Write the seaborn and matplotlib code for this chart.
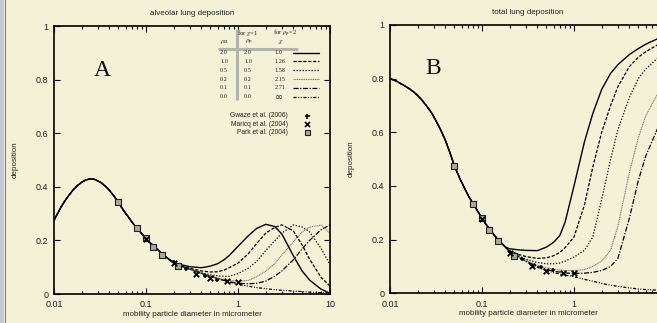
import matplotlib
matplotlib.use("Agg")
import matplotlib.pyplot as plt
import seaborn as sns
import pandas as pd
from matplotlib.lines import Line2D
from matplotlib.patches import Rectangle
from matplotlib.ticker import LogLocator, NullFormatter

# ---------------- data ----------------
diam_small = [0.01, 0.011, 0.012, 0.013, 0.014, 0.016, 0.018, 0.02, 0.022, 0.025, 0.028,
              0.032, 0.036, 0.04, 0.045, 0.05, 0.057, 0.065, 0.072, 0.08, 0.09, 0.1, 0.11,
              0.13, 0.145, 0.16, 0.18]
diam_large = [0.2, 0.25, 0.3, 0.4, 0.5, 0.6, 0.7, 0.8, 1.0, 1.3, 1.6, 2.0, 2.5, 3.0, 4.0, 5.0, 6.0, 8.0, 10.0]

alv_small = [0.275, 0.302, 0.326, 0.345, 0.361, 0.387, 0.405, 0.417, 0.425, 0.43, 0.427,
             0.417, 0.403, 0.387, 0.365, 0.342, 0.312, 0.285, 0.264, 0.245, 0.225, 0.207, 0.192,
             0.17, 0.155, 0.142, 0.128]
alv_rho20 = [0.117, 0.108, 0.102, 0.098, 0.104, 0.113, 0.127, 0.143, 0.178, 0.218, 0.245, 0.26, 0.252, 0.224, 0.142, 0.085, 0.052, 0.018, 0.003]
alv_rho10 = [0.116, 0.104, 0.096, 0.086, 0.082, 0.083, 0.089, 0.098, 0.115, 0.151, 0.189, 0.227, 0.248, 0.258, 0.235, 0.182, 0.13, 0.062, 0.03]
alv_rho05 = [0.115, 0.102, 0.093, 0.079, 0.072, 0.068, 0.066, 0.066, 0.076, 0.097, 0.122, 0.162, 0.198, 0.227, 0.258, 0.25, 0.232, 0.17, 0.11]
alv_rho02 = [0.115, 0.102, 0.092, 0.077, 0.067, 0.06, 0.055, 0.051, 0.048, 0.051, 0.065, 0.085, 0.113, 0.146, 0.195, 0.232, 0.25, 0.257, 0.227]
alv_rho01 = [0.115, 0.102, 0.092, 0.077, 0.066, 0.058, 0.051, 0.046, 0.040, 0.038, 0.040, 0.048, 0.066, 0.086, 0.128, 0.169, 0.2, 0.24, 0.258]
alv_rho00 = [0.115, 0.102, 0.092, 0.077, 0.066, 0.058, 0.051, 0.045, 0.036, 0.029, 0.024, 0.02, 0.016, 0.014, 0.011, 0.009, 0.007, 0.005, 0.004]

tot_small = [0.80, 0.795, 0.789, 0.782, 0.776, 0.764, 0.751, 0.737, 0.722, 0.698, 0.675,
             0.64, 0.605, 0.57, 0.523, 0.476, 0.43, 0.39, 0.36, 0.335, 0.305, 0.28, 0.258,
             0.225, 0.205, 0.19, 0.172]
tot_rho20 = [0.166, 0.162, 0.16, 0.159, 0.172, 0.19, 0.215, 0.265, 0.40, 0.565, 0.67, 0.76, 0.82, 0.852, 0.89, 0.912, 0.928, 0.948, 0.96]
tot_rho10 = [0.158, 0.145, 0.137, 0.13, 0.132, 0.14, 0.152, 0.17, 0.21, 0.33, 0.47, 0.6, 0.7, 0.77, 0.845, 0.88, 0.9, 0.925, 0.94]
tot_rho05 = [0.156, 0.14, 0.127, 0.115, 0.11, 0.11, 0.113, 0.12, 0.135, 0.16, 0.21, 0.35, 0.5, 0.61, 0.73, 0.8, 0.835, 0.875, 0.9]
tot_rho02 = [0.155, 0.137, 0.123, 0.105, 0.095, 0.09, 0.087, 0.085, 0.085, 0.088, 0.1, 0.12, 0.16, 0.25, 0.45, 0.58, 0.66, 0.74, 0.79]
tot_rho01 = [0.155, 0.136, 0.12, 0.1, 0.088, 0.082, 0.079, 0.076, 0.074, 0.075, 0.078, 0.085, 0.1, 0.13, 0.28, 0.42, 0.51, 0.61, 0.68]
tot_rho00 = [0.154, 0.135, 0.118, 0.097, 0.085, 0.077, 0.072, 0.068, 0.062, 0.052, 0.045, 0.037, 0.03, 0.026, 0.02, 0.016, 0.014, 0.012, 0.01]

rho_labels = ["2.0", "1.0", "0.5", "0.2", "0.1", "0.0"]
chi_labels = ["1.0", "1.26", "1.58", "2.15", "2.71", "\u221e"]

gwaze_d = [0.2, 0.27, 0.44, 0.59]
gwaze_alv = [0.118, 0.095, 0.066, 0.052]
gwaze_tot = [0.155, 0.127, 0.097, 0.085]
maricq_d = [0.1, 0.2, 0.35, 0.5, 0.75, 1.0]
maricq_alv = [0.207, 0.117, 0.076, 0.058, 0.049, 0.045]
maricq_tot = [0.277, 0.151, 0.103, 0.084, 0.077, 0.075]
park_d = [0.05, 0.08, 0.1, 0.12, 0.15, 0.22]
park_alv = [0.342, 0.247, 0.208, 0.177, 0.147, 0.105]
park_tot = [0.476, 0.333, 0.28, 0.236, 0.195, 0.139]

# ---------------- style ----------------
sns.set_theme(style="ticks")
plt.rcParams["font.family"] = ["Liberation Sans", "DejaVu Sans"]
plt.rcParams["mathtext.fontset"] = "stix"

BG = "#f4f2d6"
W, H = 657, 323
fig = plt.figure(figsize=(6.57, 3.23), dpi=100, facecolor=BG)


def fx(px):
    return px / W


def fy(py):
    return 1 - py / H


axA = fig.add_axes([fx(54), fy(294), fx(330) - fx(54), fy(26) - fy(294)])
axB = fig.add_axes([fx(390), fy(293.3), fx(666) - fx(390), fy(25) - fy(293.3)])

styles = [
    ("#000000", "-", 1.0),
    ("#000000", (0, (2.6, 1.3)), 0.9),
    ("#000000", (0, (1.0, 1.4)), 0.9),
    ("#7a7a72", (0, (1.0, 0.6)), 0.8),
    ("#000000", (0, (4.0, 1.3, 1.0, 1.3)), 0.9),
    ("#000000", (0, (2.5, 1.3, 0.8, 1.2, 0.8, 1.3)), 0.9),
]

alv_tails = [alv_rho20, alv_rho10, alv_rho05, alv_rho02, alv_rho01, alv_rho00]
tot_tails = [tot_rho20, tot_rho10, tot_rho05, tot_rho02, tot_rho01, tot_rho00]


def draw_panel(ax, small, tails, g_y, m_y, p_y, title, xlabels):
    ax.set_facecolor(BG)
    for i in reversed(range(len(tails))):
        df = pd.DataFrame({"d": diam_small + diam_large, "dep": small + tails[i]})
        col, ls, lw = styles[i]
        sns.lineplot(data=df, x="d", y="dep", ax=ax, color=col, linestyle=ls,
                     linewidth=lw, legend=False)
    sns.scatterplot(x=park_d, y=p_y, ax=ax, marker="s", s=16, color="#a9a99c",
                    edgecolor="#222222", linewidth=0.8, zorder=5, legend=False)
    sns.scatterplot(x=maricq_d, y=m_y, ax=ax, marker="x", s=16, color="#000000",
                    linewidth=1.3, zorder=6, legend=False)
    sns.scatterplot(x=gwaze_d, y=g_y, ax=ax, marker="+", s=10, color="#000000",
                    linewidth=1.1, zorder=6, legend=False)
    ax.set_xscale("log")
    ax.set_xlim(0.01, 10)
    ax.set_ylim(0, 1)
    ax.set_xticks([0.01, 0.1, 1, 10], labels=xlabels)
    ax.xaxis.set_minor_locator(LogLocator(base=10, subs=[2, 3, 4, 5, 6, 7, 8, 9]))
    ax.xaxis.set_minor_formatter(NullFormatter())
    ax.set_yticks([0, 0.2, 0.4, 0.6, 0.8, 1.0], labels=["0", "0.2", "0.4", "0.6", "0.8", "1"])
    ax.tick_params(which="both", direction="in", top=True, right=True,
                   colors="#000000", labelcolor="#222222", width=0.8)
    ax.tick_params(which="major", length=4, labelsize=6.5)
    ax.tick_params(axis="y", which="major", pad=4)
    ax.tick_params(axis="x", which="major", pad=4.5)
    ax.tick_params(which="minor", length=2)
    for s in ax.spines.values():
        s.set_linewidth(1.2)
        s.set_color("#000000")
    ax.set_xlabel("mobility particle diameter in micrometer", fontsize=5.8, color="#222222")
    ax.set_ylabel("deposition", fontsize=5.8, color="#222222")
    ax.yaxis.set_label_coords(-0.129, 0.5)
    ax.xaxis.set_label_coords(0.5, -0.062)
    ax.text(0.5, 1.048, title, transform=ax.transAxes, ha="center", va="center",
            fontsize=5.8, color="#222222")


draw_panel(axA, alv_small, alv_tails, gwaze_alv, maricq_alv, park_alv,
           "alveolar lung deposition", ["0.01", "0.1", "1", "10"])
draw_panel(axB, tot_small, tot_tails, gwaze_tot, maricq_tot, park_tot,
           "total lung deposition", ["0.01", "0.1", "1", ""])

# panel letters
serif = ["Liberation Serif", "DejaVu Serif"]
fig.text(fx(102), fy(70), "A", family=serif, fontsize=17, ha="center", va="center", color="#111111")
fig.text(fx(433), fy(68), "B", family=serif, fontsize=17, ha="center", va="center", color="#111111")

# legend table in panel A
fig.add_artist(Line2D([fx(218), fx(298)], [fy(49), fy(49)], transform=fig.transFigure,
                      color="#b4b4ac", lw=2.2, solid_capstyle="butt"))
fig.add_artist(Line2D([fx(237), fx(237)], [fy(29), fy(100)], transform=fig.transFigure,
                      color="#b4b4ac", lw=2.2, solid_capstyle="butt"))
fig.text(fx(248), fy(33), r"for $\chi$=1", family=serif, fontsize=4.8, ha="center", va="center")
fig.text(fx(285), fy(33), r"for $\rho_{\rm p}$=2", family=serif, fontsize=4.8, ha="center", va="center")
fig.text(fx(224), fy(42.5), r"$\rho_{\rm B}$", family=serif, fontsize=5.2, ha="center", va="center")
fig.text(fx(249), fy(42.5), r"$\rho_{\rm p}$", family=serif, fontsize=5.2, ha="center", va="center")
fig.text(fx(281), fy(42), r"$\chi$", family=serif, fontsize=5.2, ha="center", va="center")
for i in range(6):
    yy = 52.5 + i * 8.85
    fig.text(fx(224), fy(yy), rho_labels[i], family=serif, fontsize=4.5, ha="center", va="center")
    fig.text(fx(248), fy(yy), rho_labels[i], family=serif, fontsize=4.5, ha="center", va="center")
    if i < 5:
        fig.text(fx(274.5), fy(yy), chi_labels[i], family=serif, fontsize=4.5, ha="left", va="center")
    else:
        fig.text(fx(274.5), fy(yy), chi_labels[i], family=["DejaVu Sans"], fontsize=7,
                 ha="left", va="center")
    col, ls, lw = styles[i]
    fig.add_artist(Line2D([fx(293), fx(319)], [fy(yy), fy(yy)], transform=fig.transFigure,
                          color=col, linestyle=ls, lw=lw))

# marker legend
for j, (lab, mk) in enumerate([("Gwaze et al. (2006)", "+"), ("Maricq et al. (2004)", "x"),
                               ("Park et al. (2004)", "s")]):
    yy = 116 + j * 8
    fig.text(fx(288), fy(yy), lab, fontsize=4.8, ha="right", va="center", color="#222222")
    if mk == "s":
        fig.add_artist(Line2D([fx(307)], [fy(yy)], transform=fig.transFigure, marker="s",
                              markersize=3.6, markerfacecolor="#a9a99c", markeredgecolor="#222222",
                              markeredgewidth=0.8, linestyle="none"))
    else:
        fig.add_artist(Line2D([fx(307)], [fy(yy)], transform=fig.transFigure, marker=mk,
                              markersize=3.6, color="#000000", markeredgewidth=1.2, linestyle="none"))

# left window strip
fig.add_artist(Rectangle((0, 0), fx(4), 1, transform=fig.transFigure, color="#c4c7d4", lw=0))
fig.add_artist(Line2D([fx(4.5), fx(4.5)], [0, 1], transform=fig.transFigure, color="#7c7e8c", lw=0.8))

fig.savefig("out.png", dpi=100, facecolor=BG)
